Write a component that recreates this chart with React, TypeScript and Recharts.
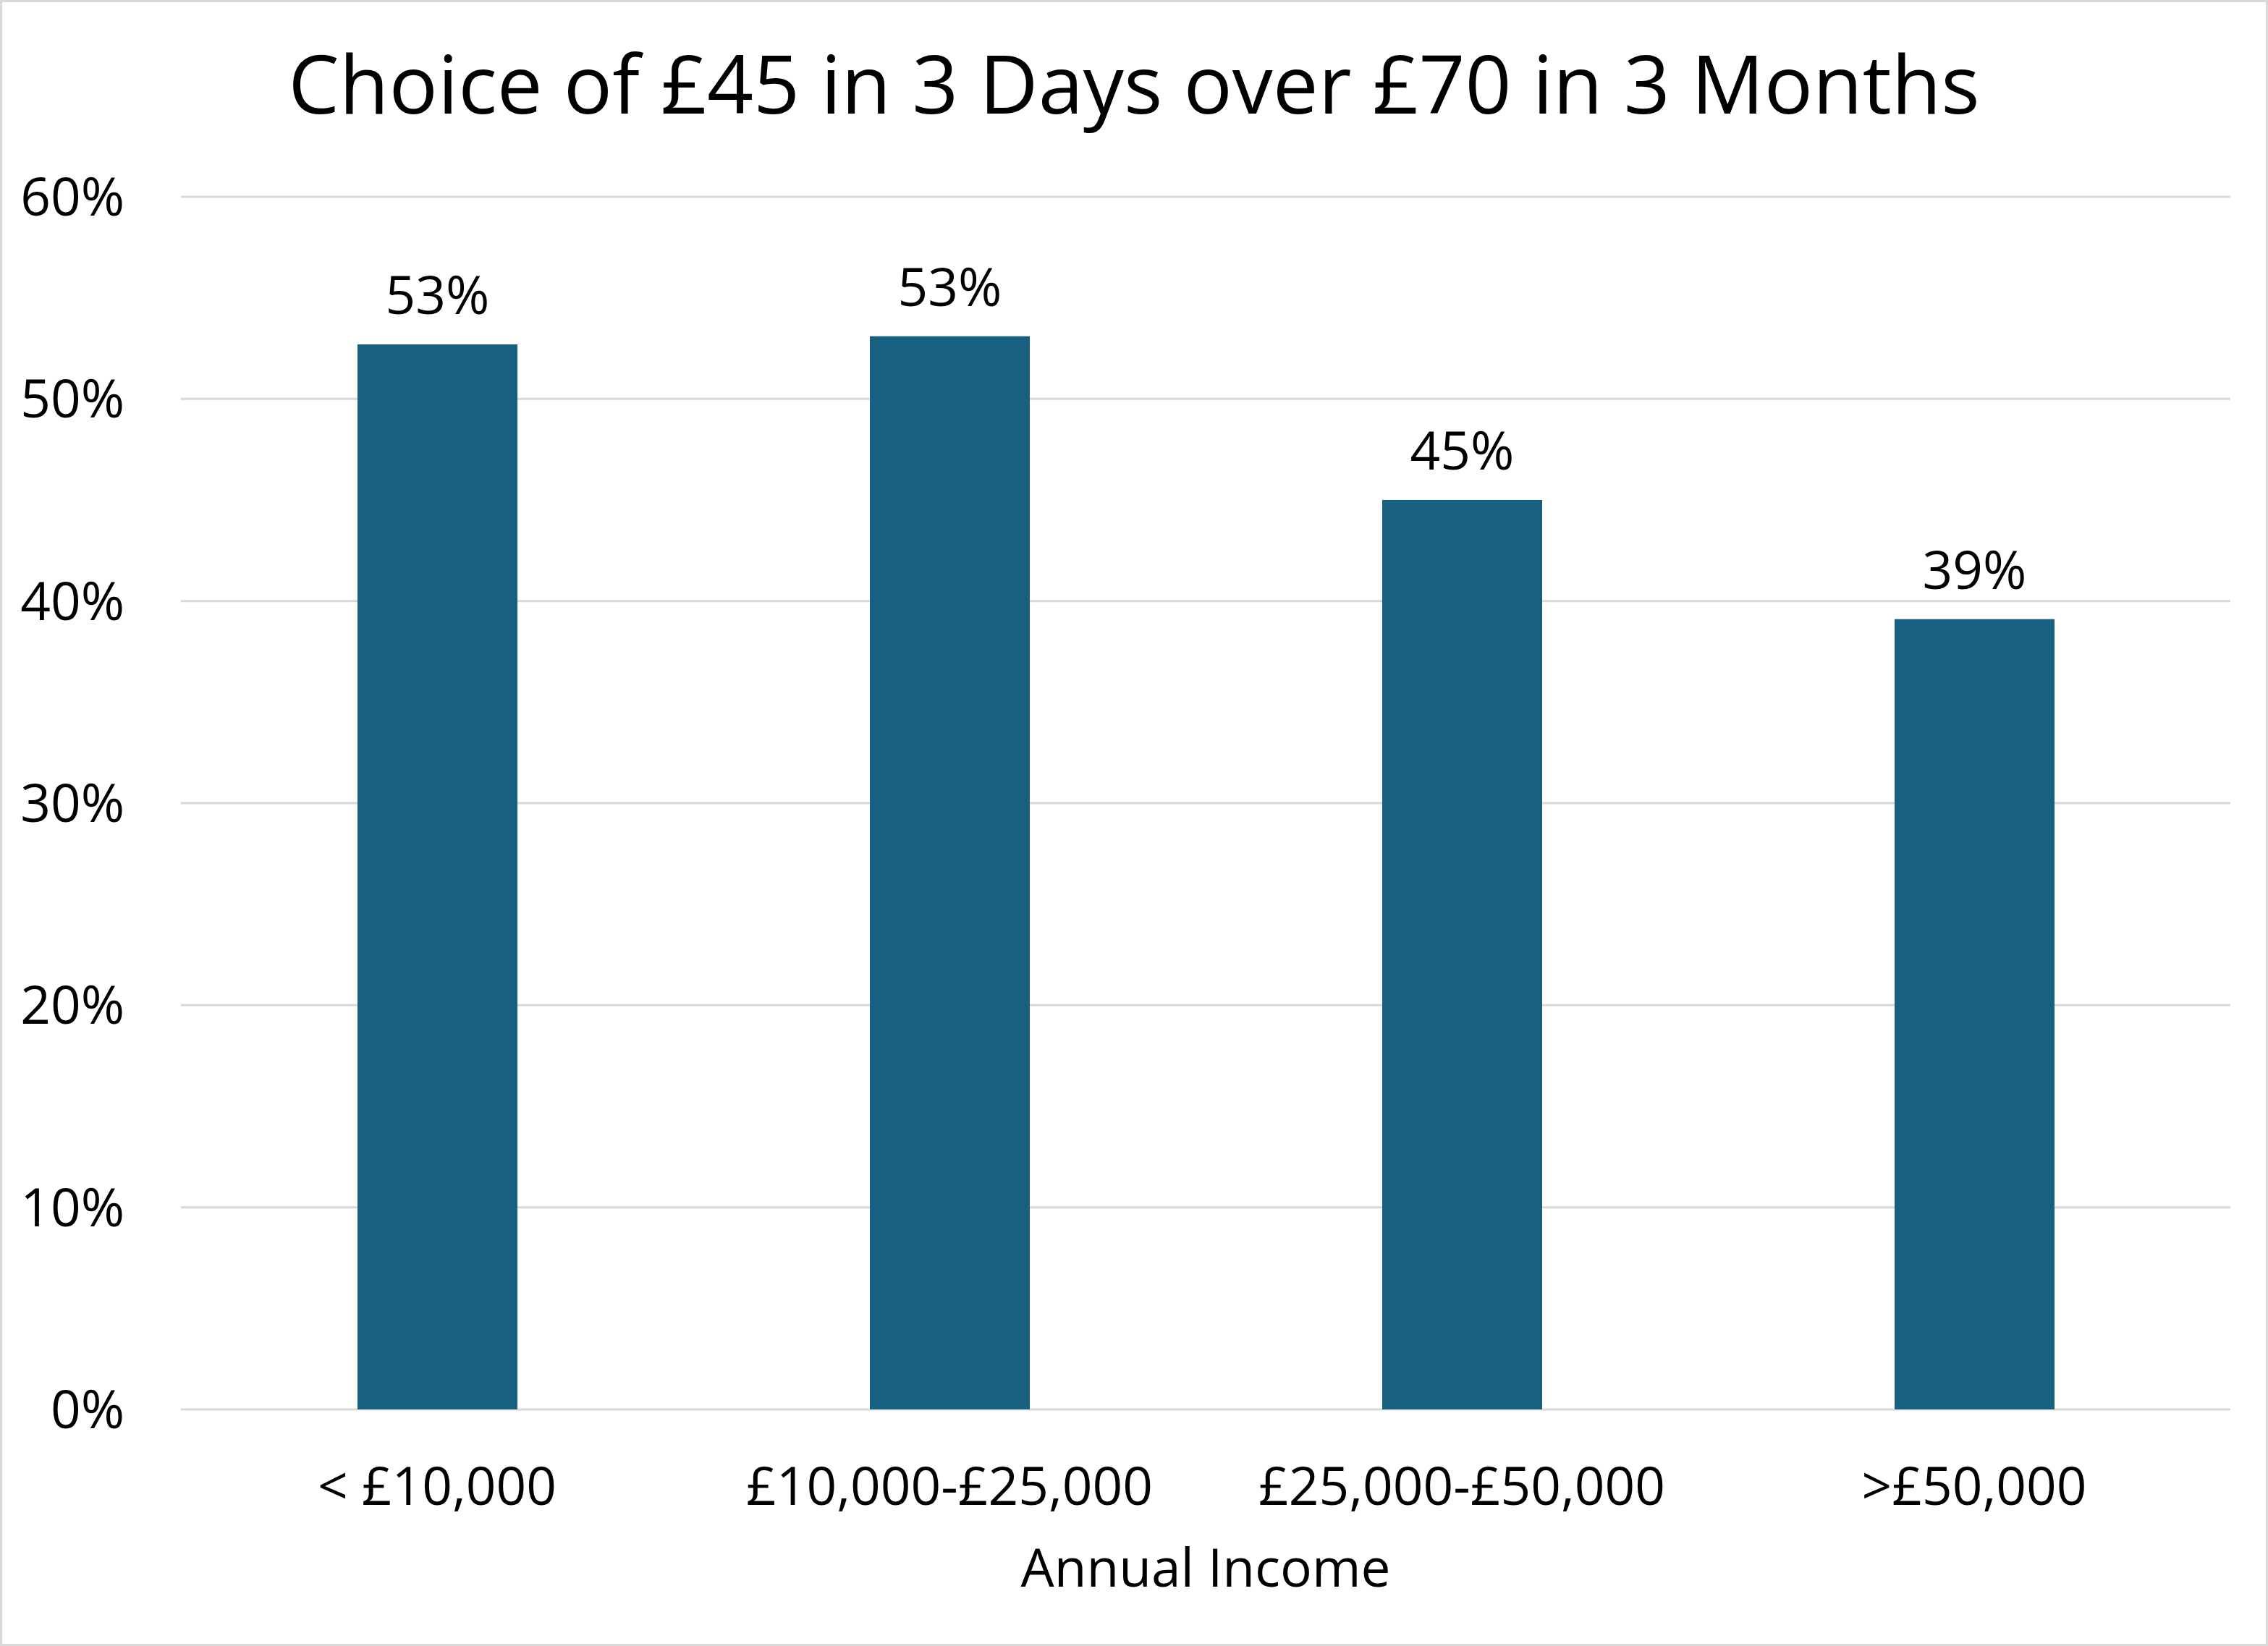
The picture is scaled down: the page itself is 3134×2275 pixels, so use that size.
import React from "react";
import { BarChart, Bar, XAxis, YAxis, CartesianGrid, LabelList } from "recharts";

const categories = ["< £10,000", "£10,000-£25,000", "£25,000-£50,000", ">£50,000"];
const shares = [52.7, 53.1, 45.0, 39.1];
const yTicks = [0, 10, 20, 30, 40, 50, 60];

const data = categories.map((income, i) => ({ income, value: shares[i] }));

const W = 3134;
const H = 2275;
const FONT = "'Open Sans', sans-serif";
const LABEL_SIZE = 73;

const YTick = (props: any) => {
  const { x, y, payload } = props;
  return (
    <text x={x} y={y + 26} textAnchor="end" fontSize={LABEL_SIZE} fontFamily={FONT} fill="#000">
      {payload.value}%
    </text>
  );
};

const XTick = (props: any) => {
  const { x, y, payload } = props;
  return (
    <text x={x} y={y + 132} textAnchor="middle" fontSize={LABEL_SIZE} fontFamily={FONT} fill="#000">
      {payload.value}
    </text>
  );
};

const AxisTitle = (props: any) => {
  const vb = props.viewBox || {};
  return (
    <text
      x={vb.x + vb.width / 2}
      y={vb.y + 245}
      textAnchor="middle"
      fontSize={LABEL_SIZE}
      fontFamily={FONT}
      fill="#000"
    >
      Annual Income
    </text>
  );
};

export default function App() {
  return (
    <div style={{ position: "absolute", left: 0, top: 0, width: W, height: H, background: "#fff", fontFamily: FONT }}>
      <BarChart width={W} height={H} data={data} margin={{ top: 272, right: 52, bottom: 127, left: 0 }}>
        <CartesianGrid vertical={false} stroke="#d9d9d9" strokeWidth={3} />
        <XAxis
          dataKey="income"
          height={200}
          axisLine={false}
          tickLine={false}
          tickSize={0}
          tickMargin={0}
          tick={<XTick />}
          interval={0}
          label={{ content: <AxisTitle /> }}
        />
        <YAxis
          width={250}
          domain={[0, 60]}
          ticks={yTicks}
          axisLine={false}
          tickLine={false}
          tickSize={0}
          tickMargin={78}
          tick={<YTick />}
        />
        <Bar dataKey="value" fill="#17607F" barSize={221} isAnimationActive={false}>
          <LabelList
            dataKey="value"
            position="top"
            offset={42}
            formatter={(v: any) => `${Math.round(Number(v))}%`}
            fontSize={LABEL_SIZE}
            fontFamily={FONT}
            fill="#000"
          />
        </Bar>
      </BarChart>
      <svg width={W} height={H} style={{ position: "absolute", left: 0, top: 0, pointerEvents: "none" }}>
        <rect x={1.5} y={1.5} width={W - 3} height={H - 3} fill="none" stroke="#d9d9d9" strokeWidth={3} />
        <text x={1567} y={157} textAnchor="middle" fontSize={112} fontFamily={FONT} fill="#000">
          Choice of £45 in 3 Days over £70 in 3 Months
        </text>
      </svg>
    </div>
  );
}
